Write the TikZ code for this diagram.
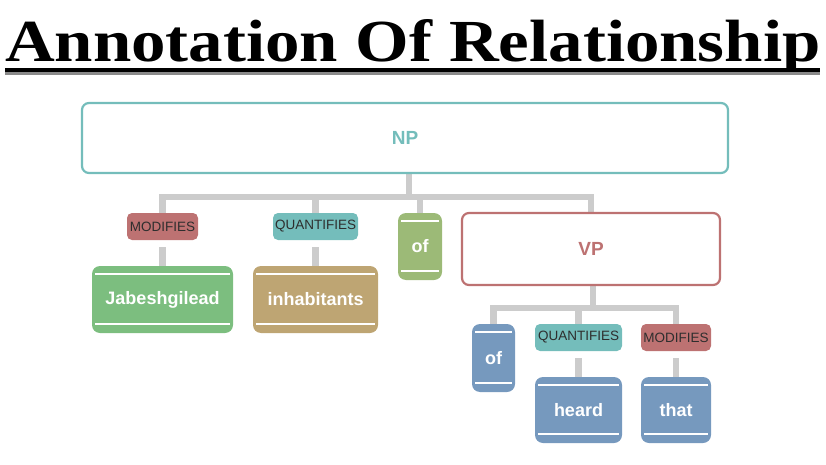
\documentclass[tikz,border=0pt]{standalone}
\usepackage{fontspec}
\setmainfont{Liberation Sans}
\newfontfamily\titlefont{Liberation Serif}
\usetikzlibrary{backgrounds}
\definecolor{tealc}{HTML}{74BDBB}
\definecolor{rosec}{HTML}{BD7272}
\definecolor{greenc}{HTML}{7CBE7F}
\definecolor{tanc}{HTML}{BEA573}
\definecolor{olivec}{HTML}{9CBA77}
\definecolor{bluec}{HTML}{7699BE}
\definecolor{connc}{HTML}{CCCCCC}
\definecolor{labtext}{HTML}{2E2E2E}
\definecolor{shadowc}{HTML}{8A8A8A}
\begin{document}
\begin{tikzpicture}[x=1pt,y=-1pt,
 phrase/.style={draw=#1, line width=2.2pt, rounded corners=7pt, fill=white, text=#1,
   font=\fontsize{19}{19}\selectfont\bfseries, inner sep=0pt},
 word/.style={fill=#1, rounded corners=8pt, text=white,
   font=\fontsize{18}{18}\selectfont\bfseries, inner sep=0pt,
   path picture={
     \draw[white,line width=1.3pt] ([xshift=3pt,yshift=-8pt]path picture bounding box.north west) -- ([xshift=-3pt,yshift=-8pt]path picture bounding box.north east);
     \draw[white,line width=1.3pt] ([xshift=3pt,yshift=9pt]path picture bounding box.south west) -- ([xshift=-3pt,yshift=9pt]path picture bounding box.south east);}},
 tag/.style={fill=#1, rounded corners=5pt, text=labtext,
   font=\fontsize{13.5}{13.5}\selectfont, inner sep=0pt, minimum height=27pt},
 conn/.style={draw=connc, line width=6.5pt}]
\useasboundingbox (0,0) rectangle (826,465);

% title
\node[anchor=base west, inner sep=0pt] (title) at (5,62)
  {\resizebox{815pt}{42pt}{\titlefont\bfseries Annotation Of Relationship}};
\draw[shadowc, line width=3pt] (5,73.5) -- (820,73.5);
\draw[black, line width=4pt] (5,70) -- (820,70);

% phrase boxes
\node[phrase=tealc, minimum width=646pt, minimum height=70pt] (np) at (405,138) {NP};
\node[phrase=rosec, minimum width=258pt, minimum height=72pt] (vp) at (591,249) {VP};

% labels
\node[tag=rosec, minimum width=71pt] (mod1) at (162.5,226.5) {MODIFIES};
\node[tag=tealc, minimum width=85pt] (q1) at (315.5,226.5) {QUANTIFIES};
\node[tag=tealc, minimum width=87pt] (q2) at (578.5,337.5) {QUANTIFIES};
\node[tag=rosec, minimum width=70pt] (mod2) at (676,337.5) {MODIFIES};

% words
\node[word=greenc, minimum width=141pt, minimum height=67pt] (jab) at (162.5,299.5) {Jabeshgilead};
\node[word=tanc, minimum width=125pt, minimum height=67pt] (inh) at (315.5,299.5) {inhabitants};
\node[word=olivec, minimum width=44pt, minimum height=67pt] (of1) at (420,246.5) {of};
\node[word=bluec, minimum width=43pt, minimum height=68pt] (of2) at (493.5,358) {of};
\node[word=bluec, minimum width=87pt, minimum height=66pt] (heard) at (578.5,410) {heard};
\node[word=bluec, minimum width=70pt, minimum height=66pt] (that) at (676,410) {that};

% connectors
\coordinate (b1) at (409,197);
\coordinate (b2) at (593,308);
\begin{scope}[on background layer]
\draw[conn] (np.south -| b1) -- (b1);
\draw[conn] (mod1.north) |- (b1) -| (vp.north);
\draw[conn] (q1.north) -- (q1.north |- b1);
\draw[conn] (of1.north) -- (of1.north |- b1);
\draw[conn] ([yshift=-7pt]mod1.south) -- (jab.north);
\draw[conn] ([yshift=-7pt]q1.south) -- (inh.north);
\draw[conn] (vp.south -| b2) -- (b2);
\draw[conn] (of2.north) |- (b2) -| (mod2.north);
\draw[conn] (q2.north) -- (q2.north |- b2);
\draw[conn] ([yshift=-7pt]q2.south) -- (heard.north);
\draw[conn] ([yshift=-7pt]mod2.south) -- (that.north);
\end{scope}
\end{tikzpicture}
\end{document}
